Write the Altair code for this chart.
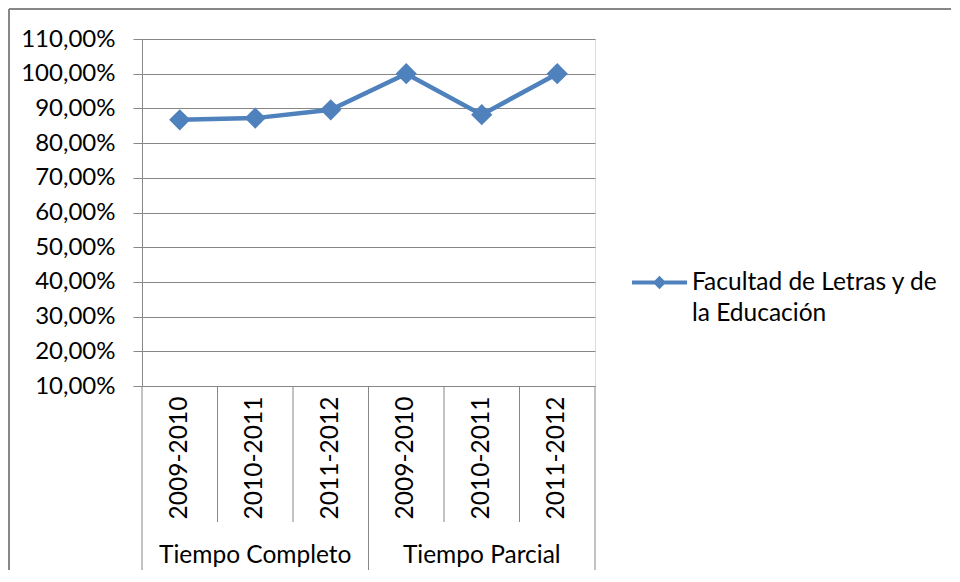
import altair as alt
import pandas as pd

# ---- data ----
groups = ["Tiempo Completo", "Tiempo Completo", "Tiempo Completo",
          "Tiempo Parcial", "Tiempo Parcial", "Tiempo Parcial"]
years = ["2009-2010", "2010-2011", "2011-2012",
         "2009-2010", "2010-2011", "2011-2012"]
values = [0.867, 0.872, 0.896, 1.0, 0.882, 1.0]
serie = "Facultad de Letras y de la Educación"
y_ticks = [0.1, 0.2, 0.3, 0.4, 0.5, 0.6, 0.7, 0.8, 0.9, 1.0, 1.1]

keys = [f"{g}|{y}" for g, y in zip(groups, years)]
df = pd.DataFrame({"key": keys, "group": groups, "year": years,
                   "value": values, "serie": serie,
                   "idx": list(range(len(keys)))})

BLUE = "#4F81BD"
GRAY = "#878787"
FONT = "Lato"
FS = 24.5
FSY = 24

W, H = 453, 347

xs = alt.Scale(type="band", paddingInner=0, paddingOuter=0)
ys = alt.Scale(domain=[0.1, 1.1], nice=False, zero=False)

y_axis = alt.Axis(values=y_ticks,
                  labelExpr="replace(format(datum.value, '.2%'), '.', ',')",
                  labelOverlap=False,
                  tickSize=9, tickColor=GRAY, domainColor=GRAY,
                  gridColor=GRAY, grid=True, labelPadding=18,
                  labelFont=FONT, labelFontSize=FSY,
                  labelColor="#000000")

base = alt.Chart(df)
x_center = alt.X("key:N", sort=keys, scale=xs, axis=None)

line = base.mark_line(strokeWidth=4.5).encode(
    x=x_center,
    y=alt.Y("value:Q", scale=ys, title=None, axis=y_axis),
    color=alt.Color("serie:N", scale=alt.Scale(range=[BLUE]),
                    legend=alt.Legend(
                        title=None, orient="none", legendX=488, legendY=214,
                        padding=0,
                        symbolType="M-1,0L1,0M0,-0.14L0.14,0L0,0.14L-0.14,0Z",
                        symbolSize=3025, symbolStrokeWidth=4,
                        symbolStrokeColor=BLUE, symbolFillColor=BLUE,
                        labelFont=FONT, labelFontSize=FS, labelColor="#000000",
                        labelOffset=3, labelLimit=400,
                        labelExpr="[substring(datum.label, 0, 23), substring(datum.label, 24)]")),
)

points = base.mark_point(shape="diamond", filled=True, size=450,
                         color=BLUE, opacity=1).encode(
    x=x_center,
    y=alt.Y("value:Q", scale=ys, title=None, axis=y_axis),
)

# category table separators below the axis
inner_sep = base.transform_filter("datum.idx != 0 && datum.idx != 3").mark_rule(
    color=GRAY, strokeWidth=1).encode(
    x=alt.X("key:N", sort=keys, scale=xs, axis=None, bandPosition=0),
    y=alt.value(H), y2=alt.value(483))

group_sep = base.transform_filter("datum.idx == 0 || datum.idx == 3").mark_rule(
    color=GRAY, strokeWidth=1).encode(
    x=alt.X("key:N", sort=keys, scale=xs, axis=None, bandPosition=0),
    y=alt.value(H), y2=alt.value(531))

end_sep = base.transform_filter("datum.idx == 5").mark_rule(
    color=GRAY, strokeWidth=1).encode(
    x=alt.X("key:N", sort=keys, scale=xs, axis=None, bandPosition=1),
    y=alt.value(H), y2=alt.value(531))

year_text = base.mark_text(angle=270, align="center", baseline="middle",
                           font=FONT, fontSize=FS, color="#000000").encode(
    x=x_center, y=alt.value(419), text="year:N")

group_text = base.transform_filter("datum.idx == 1 || datum.idx == 4").mark_text(
    align="center", baseline="middle", font=FONT, fontSize=FS,
    color="#000000").encode(
    x=x_center, y=alt.value(517), text="group:N")

# outer chart-area border (left and top edges visible in the frame)
frame = alt.Chart(alt.Data(values=[{"a": 1}]))
border_left = frame.mark_rule(color=GRAY, strokeWidth=2).encode(
    x=alt.value(-133), y=alt.value(-30), y2=alt.value(531))
border_top = frame.mark_rule(color=GRAY, strokeWidth=2).encode(
    x=alt.value(-133), x2=alt.value(809), y=alt.value(-30))

chart = alt.layer(
    border_left, border_top, inner_sep, group_sep, end_sep,
    year_text, group_text, line, points
).properties(width=W, height=H, padding=0).configure_view(
    strokeWidth=0
).configure_axis(
    labelOverlap=False
).configure(
    font=FONT, style={"guide-label": {"lineHeight": 31}}
)

chart.save("out.html", embed_options={"renderer": "svg", "actions": False})
